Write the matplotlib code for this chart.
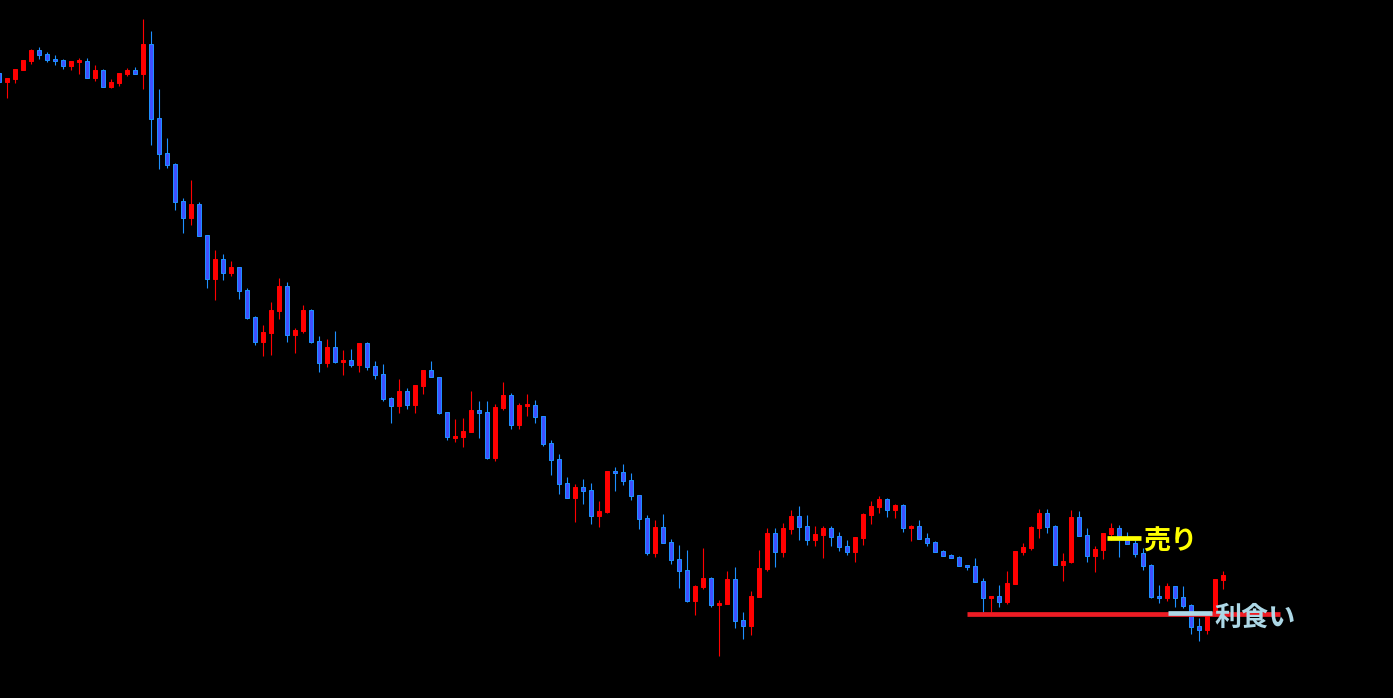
import matplotlib.pyplot as plt
import numpy as np

opens = [73, 81.7, 79, 70, 61, 50, 54, 59, 60, 66,
         61.5, 61, 77.7, 70, 86.7, 83, 74, 70, 73.7, 44,
         118, 153, 164, 201, 217.7, 204, 235, 278.7, 259, 273,
         267, 290, 317, 342, 333, 311, 286, 335, 331, 310,
         341, 362.7, 347, 361.5, 360, 364.7, 343, 366, 374, 398,
         405.7, 391, 405, 385.7, 370, 377, 412, 437.5, 437, 431.7,
         410, 412, 458, 407.7, 395, 424.7, 405.5, 405, 416, 443,
         459, 483, 497.7, 487, 490, 515.7, 511.7, 471, 472, 480,
         495, 518, 552.7, 527, 542, 559, 570, 600.7, 586.7, 578,
         604.7, 603.7, 579, 620, 625.7, 596.7, 569, 533, 551.7, 528.7,
         516, 526, 539.7, 534.7, 528, 536, 546, 551.7, 537.7, 515,
         507, 499, 509.7, 505, 527.7, 526, 538, 542, 551, 555,
         557, 565, 566, 581, 597.7, 596, 601.7, 583.7, 552, 547.7,
         527.7, 513, 526, 564.7, 562, 517, 535, 555.7, 549.7, 534,
         528, 539, 543, 553, 565, 596, 597.7, 586, 597, 605,
         625.7, 629.7, 615, 580]
highs = [72, 78, 69, 60, 49, 46.7, 52, 55, 59, 61,
         58, 58, 65, 69, 79, 73, 68, 67, 19, 31,
         89, 138, 163, 198, 180, 202, 235, 250, 254, 261,
         267, 288, 316, 325, 302, 278, 282, 328, 305, 309,
         336, 339, 331, 350, 349, 343, 342, 361, 364, 397,
         379, 388, 385, 370, 361, 377, 412, 419, 418, 391,
         401, 401, 404, 382, 393, 403, 394, 400, 416, 440,
         454, 477, 484, 479, 483, 501, 471, 467, 464, 473,
         495, 515, 520, 514, 539, 545, 550, 585, 548, 577,
         600, 571, 567, 612, 591, 550, 528, 528, 523, 510,
         506, 515, 526, 526, 526, 532, 540, 537, 513, 501,
         496, 498, 504, 504, 524.7, 520, 533, 541, 550, 554,
         556, 565, 558, 578, 596, 585, 571, 551, 543, 526,
         509, 509, 525, 553, 510, 511, 528, 546, 533, 523,
         525, 532, 540, 548, 564, 585, 583, 586, 586, 604,
         617.7, 612, 579, 571]
lows = [83, 97.7, 82.7, 70, 64, 58.7, 62, 65, 69, 70,
        74, 78, 81, 87, 88, 86, 76, 74, 89, 145,
        169, 168, 210, 233, 225, 236, 288, 300, 280, 276,
        299, 319, 345, 356, 355, 319, 342, 353, 333, 343,
        371.7, 366.7, 363, 374.7, 366.7, 371.7, 369.7, 378.7, 400.7, 422.7,
        412.7, 408.7, 412.7, 393.7, 377.3, 413.7, 439.7, 441.7, 446.7, 431.7,
        438, 459, 460.7, 409.7, 428.7, 428.7, 415.7, 422.7, 445.7, 474.7,
        493.7, 497.7, 521.7, 503.7, 523.7, 526.7, 512.7, 490.7, 484.7, 499.7,
        528.7, 554.7, 556.7, 542.7, 563.7, 587.7, 601.7, 614.7, 588.7, 606.7,
        655.7, 603.7, 627.7, 638.7, 634.7, 597, 571, 566.7, 556.7, 533.7,
        539.7, 544.7, 545.7, 557.7, 545.7, 550.7, 554.7, 561.7, 544.7, 523.7,
        513, 516.7, 517.7, 531.7, 540.7, 538.7, 545.7, 551.7, 555.7, 557.7,
        565.7, 569.7, 581.7, 612, 612, 606.7, 603.7, 583.7, 555, 549.7,
        537.7, 532.7, 564.7, 580.7, 562.7, 535.7, 561.7, 571.7, 558.7, 540,
        556.7, 543.7, 556.7, 569.7, 597.7, 602.7, 600.7, 606.7, 607.7, 633.7,
        640.7, 633.7, 616, 589]
closes = [82, 78, 69, 60, 50, 54.7, 60, 60.7, 66, 61,
          61, 77.7, 70, 86.7, 82, 73, 70, 73.7, 44, 118.7,
          153.7, 164.7, 201.7, 217.7, 204, 235.7, 278.7, 259, 272.7, 267,
          291, 318, 342, 332, 310, 286, 335, 330, 310, 342,
          362.7, 347, 362, 360, 364.7, 343, 366.7, 374.7, 398.7, 405.7,
          391, 404.7, 385, 370, 377.3, 412.7, 437.3, 436, 431, 410,
          412.7, 458, 407, 395, 424.7, 405, 405, 416.7, 443.7, 459.7,
          483.7, 497.7, 487, 490.7, 515.7, 511, 471, 472.5, 480.7, 495.7,
          518.7, 552.7, 527, 542.7, 559.7, 570.7, 600.7, 586, 578, 604.7,
          603.7, 579, 620.7, 625.7, 596, 568, 533, 551.7, 528, 516,
          526.7, 539.7, 534, 528, 536.7, 546.7, 551.7, 537, 514, 506,
          499, 509.7, 505, 527.7, 525.7, 538.7, 542.7, 551.7, 555.7, 557.7,
          565.7, 566.7, 581.7, 597.7, 596, 601.7, 583, 551, 547, 527,
          513, 526.7, 564.7, 561, 517, 535.7, 555.7, 549, 533, 528,
          536, 543.7, 553.7, 565.7, 596.7, 597.7, 586, 597.7, 605.7, 626.7,
          629.7, 612, 579, 575]

# turn levels into prices (higher = up)
o = 700 - np.array(opens)
h = 700 - np.array(highs)
l = 700 - np.array(lows)
c = 700 - np.array(closes)
x = np.arange(len(o))
up = c > o

plt.rcParams['font.family'] = ['Noto Sans CJK JP', 'DejaVu Sans']

fig = plt.figure(figsize=(13.93, 6.98), dpi=100, facecolor='black')
ax = fig.add_axes([0, 0, 1, 1])
ax.set_facecolor('black')

wick_col = np.where(up, '#ff0000', '#1e90ff')
ax.vlines(x, l, h, colors=wick_col, linewidth=0.8, zorder=1)

body_low = np.minimum(o, c)
body_h = np.maximum(np.abs(c - o), 1.5)
ax.bar(x[up], body_h[up], bottom=body_low[up], width=0.5,
       color='#ff0000', edgecolor='#ff0000', linewidth=0.72, zorder=2)
ax.bar(x[~up], body_h[~up], bottom=body_low[~up], width=0.5,
       color='#3f50ff', edgecolor='#1e90ff', linewidth=0.72, zorder=2)

# trade marks
ax.hlines(85.7, 121, 160.1, color='#ee1c24', linewidth=3.4, zorder=3)
ax.hlines(161.7, 138.4, 142.7, color='#ffff00', linewidth=3.4, zorder=4)
ax.hlines(86.7, 146.1, 151.6, color='#add8e6', linewidth=3.4, zorder=4)
ax.text(143.0, 158.8, '売り', color='#ffff00', fontsize=19.5, fontweight='bold',
        va='center', ha='left', zorder=5)
ax.text(151.9, 82.6, '利食い', color='#add8e6', fontsize=19.5, fontweight='bold',
        va='center', ha='left', zorder=5)

ax.set_xlim(0.0875, 174.2125)
ax.set_ylim(2, 700)
ax.axis('off')

fig.savefig('out.png', dpi=100, facecolor='black')
